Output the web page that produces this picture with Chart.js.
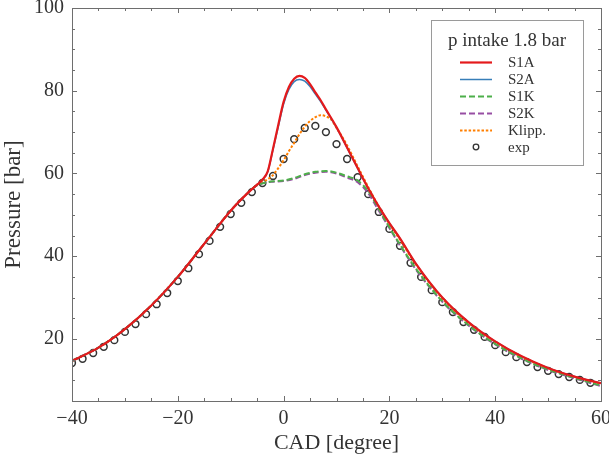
<!DOCTYPE html>
<html>
<head>
<meta charset="utf-8">
<script src="https://cdn.jsdelivr.net/npm/chart.js@4.4.1/dist/chart.umd.min.js"></script>
<style>
html,body{margin:0;padding:0;background:#fff;}
#wrap{width:609px;height:456px;position:relative;}
</style>
</head>
<body>
<div id="wrap"><canvas id="c" width="609" height="456"></canvas></div>
<script>
// ---- data ----
const xTicks = [-40, -20, 0, 20, 40, 60];
const yTicks = [20, 40, 60, 80, 100];
const legendTitle = 'p intake 1.8 bar';

const cadS1A = [-40,-35,-30,-25,-20,-15,-10,-7,-5,-4,-3,-2,-1,0,1,2,3,4,5,6,7,8,10,12,14,16,18,20,22,25,30,35,40,45,50,55,60];
const s1a = [14.7,17.9,22.4,28.1,35.0,43.0,51.0,55.0,57.3,58.5,60.5,66.0,71.8,77.3,80.9,82.9,83.6,83.1,81.6,79.6,77.7,75.5,71.2,66.3,61.3,56.4,52.0,48.0,44.3,38.2,30.0,24.0,19.4,15.8,13.0,10.9,9.3];

const cadS2A = [-40,-35,-30,-25,-20,-15,-10,-7,-5,-4,-3,-2,-1,0,1,2,3,4,5,6,7,8,10,12,14,16,18,20,22,25,30,35,40,45,50,55,60];
const s2a = [14.7,17.9,22.4,28.1,35.0,43.0,51.0,55.0,57.3,58.5,60.4,65.8,71.3,76.8,80.3,82.2,82.7,82.3,81.0,79.2,77.4,75.3,71.1,66.2,61.2,56.3,52.0,48.0,44.3,38.2,30.0,24.0,19.4,15.8,13.0,10.9,9.3];

const cadS1K = [-40,-35,-30,-25,-20,-15,-10,-7,-5,-4,-3,-2,0,2,4,6,8,9,10,12,14,16,18,20,22,25,30,35,40,45,50,55,60];
const s1k = [14.7,17.9,22.4,28.1,35.0,43.0,51.0,55.0,57.2,57.6,57.9,58.1,58.3,58.9,59.8,60.4,60.6,60.5,60.2,59.3,58.3,55.7,51.4,47.0,42.8,37.0,29.1,23.3,18.8,15.3,12.6,10.6,8.7];

const cadS2K = [-40,-35,-30,-25,-20,-15,-10,-7,-5,-4,-3,-2,0,2,4,6,8,9,10,12,14,16,18,20,22,25,30,35,40,45,50,55,60];
const s2k = [14.7,17.9,22.4,28.1,35.0,43.0,51.0,55.0,57.2,57.6,57.9,58.0,58.2,58.7,59.6,60.2,60.4,60.3,60.0,59.0,57.9,55.2,51.0,46.8,42.6,36.8,29.0,23.2,18.7,15.2,12.5,10.5,8.6];

const cadKlipp = [-40,-35,-30,-25,-20,-15,-10,-7,-5,-4,-3,-2,-1,0,1,2,3,4,5,6,7,8,9,10,11,12,13,14,15,16,17,18,20,22,25,30,35,40,45,50,55,60];
const klipp = [14.7,17.9,22.4,28.1,35.0,43.0,51.0,55.0,57.3,57.9,58.6,59.6,61.3,63.2,65.4,67.4,69.5,71.3,72.7,73.6,74.1,73.8,73.0,71.0,69.0,66.8,64.3,61.7,59.2,56.7,54.3,52.0,47.8,44.0,38.0,29.8,23.8,19.2,15.6,12.9,10.8,9.1];

const cadExp = [-40,-38,-36,-34,-32,-30,-28,-26,-24,-22,-20,-18,-16,-14,-12,-10,-8,-6,-4,-2,0,2,4,6,8,10,12,14,16,18,20,22,24,26,28,30,32,34,36,38,40,42,44,46,48,50,52,54,56,58];
const exp = [14.2,15.2,16.6,18.1,19.7,21.7,23.6,26.0,28.4,31.1,34.0,37.1,40.5,43.7,47.1,50.2,52.9,55.5,57.7,59.4,63.5,68.3,71.0,71.5,70.0,67.1,63.5,59.1,55.0,50.7,46.6,42.5,38.4,35.0,31.8,28.9,26.5,24.1,22.2,20.5,18.5,16.8,15.6,14.4,13.2,12.3,11.5,10.8,10.1,9.4];

const pts = (xs, ys) => xs.map((x, i) => ({x: x, y: ys[i]}));
const FONT = "'Liberation Serif', 'DejaVu Serif', serif";
const TXT = '#333333';
const AX = '#6e6e6e';

function fmt(v) { return v < 0 ? '\u2212' + Math.abs(v) : String(v); }

const lineDs = (label, xs, ys, color, width, dash) => ({
  label: label, data: pts(xs, ys), showLine: true, borderColor: color, backgroundColor: color,
  borderWidth: width, borderDash: dash, pointRadius: 0, cubicInterpolationMode: 'monotone', fill: false
});

const datasets = [
  lineDs('S1A', cadS1A, s1a, '#e41a1c', 2.2, []),
  lineDs('S2A', cadS2A, s2a, '#377eb8', 1.5, []),
  lineDs('S1K', cadS1K, s1k, '#4daf4a', 2, [6, 3]),
  lineDs('S2K', cadS2K, s2k, '#984ea3', 2, [6, 3]),
  lineDs('Klipp.', cadKlipp, klipp, '#ff7f00', 2, [2.5, 1.8]),
  { label: 'exp', data: pts(cadExp, exp), showLine: false, pointRadius: 3.4, pointStyle: 'circle',
    pointBorderColor: '#333333', pointBackgroundColor: 'rgba(0,0,0,0)', pointBorderWidth: 1.5,
    borderColor: '#333333', backgroundColor: 'rgba(0,0,0,0)' }
];

// inward ticks, box frame, legend box
const framePlugin = {
  id: 'frame',
  afterDatasetsDraw(chart) {
    const ctx = chart.ctx, a = chart.chartArea;
    const xs = chart.scales.x, ys = chart.scales.y;
    ctx.save();
    ctx.strokeStyle = AX; ctx.lineWidth = 1;
    ctx.strokeRect(Math.round(a.left) + 0.5, Math.round(a.top) + 0.5, Math.round(a.right - a.left), Math.round(a.bottom - a.top));
    ctx.beginPath();
    for (let v = xs.min; v <= xs.max + 1e-9; v += 5) {
      const px = Math.round(xs.getPixelForValue(v)) + 0.5;
      const len = (v % 20 === 0) ? 5 : 3;
      ctx.moveTo(px, a.bottom); ctx.lineTo(px, a.bottom - len);
      ctx.moveTo(px, a.top); ctx.lineTo(px, a.top + len);
    }
    for (let v = ys.min; v <= ys.max + 1e-9; v += 5) {
      const py = Math.round(ys.getPixelForValue(v)) + 0.5;
      const len = (v % 20 === 0) ? 5 : 3;
      ctx.moveTo(a.left, py); ctx.lineTo(a.left + len, py);
      ctx.moveTo(a.right, py); ctx.lineTo(a.right - len, py);
    }
    ctx.stroke();
    ctx.restore();
  },
  afterDraw(chart) {
    const ctx = chart.ctx;
    const bx = 431, by = 20, bw = 152, bh = 145;
    ctx.save();
    ctx.fillStyle = '#ffffff';
    ctx.fillRect(bx, by, bw, bh);
    ctx.strokeStyle = '#9a9a9a'; ctx.lineWidth = 1;
    ctx.strokeRect(bx + 0.5, by + 0.5, bw, bh);
    ctx.fillStyle = TXT;
    ctx.font = '19px ' + FONT;
    ctx.textAlign = 'center'; ctx.textBaseline = 'middle';
    ctx.fillText(legendTitle, bx + bw / 2, 41);
    ctx.font = '15px ' + FONT;
    ctx.textAlign = 'left';
    chart.data.datasets.forEach((ds, i) => {
      const y = 62 + i * 17;
      if (ds.showLine) {
        ctx.strokeStyle = ds.borderColor;
        ctx.lineWidth = ds.borderWidth;
        ctx.setLineDash(ds.borderDash || []);
        ctx.beginPath(); ctx.moveTo(460, y + 0.5); ctx.lineTo(492, y + 0.5); ctx.stroke();
        ctx.setLineDash([]);
      } else {
        ctx.strokeStyle = ds.pointBorderColor; ctx.lineWidth = 1.3;
        ctx.beginPath(); ctx.arc(476, y, 2.8, 0, Math.PI * 2); ctx.stroke();
      }
      ctx.fillStyle = TXT;
      ctx.fillText(ds.label, 508, y + 1);
    });
    ctx.restore();
  }
};

new Chart(document.getElementById('c'), {
  type: 'scatter',
  data: { datasets: datasets },
  options: {
    responsive: false, animation: false, devicePixelRatio: 1,
    layout: { padding: { top: 8, right: 8, left: 0, bottom: 0 } },
    plugins: { legend: { display: false }, tooltip: { enabled: false } },
    scales: {
      x: {
        type: 'linear', min: -40, max: 60,
        grid: { display: false, drawTicks: false }, border: { display: false },
        ticks: { font: { family: FONT, size: 20 }, color: TXT, padding: 6, maxRotation: 0, callback: v => fmt(v) },
        afterBuildTicks: s => { s.ticks = xTicks.map(v => ({ value: v })); },
        afterFit: s => { s.height = 55; s.paddingLeft = 0; s.paddingRight = 0; },
        title: { display: true, text: 'CAD [degree]', font: { family: FONT, size: 22 }, color: TXT, padding: { top: 0, bottom: 0 } }
      },
      y: {
        type: 'linear', min: 5, max: 100,
        grid: { display: false, drawTicks: false }, border: { display: false },
        ticks: { font: { family: FONT, size: 20 }, color: TXT, padding: 8, callback: v => fmt(v) },
        afterBuildTicks: s => { s.ticks = yTicks.map(v => ({ value: v })); },
        afterFit: s => { s.width = 72; s.paddingTop = 0; s.paddingBottom = 0; },
        title: { display: true, text: 'Pressure [bar]', font: { family: FONT, size: 23 }, color: TXT, padding: { top: 0, bottom: 4 } }
      }
    }
  },
  plugins: [framePlugin]
});
</script>
</body>
</html>
